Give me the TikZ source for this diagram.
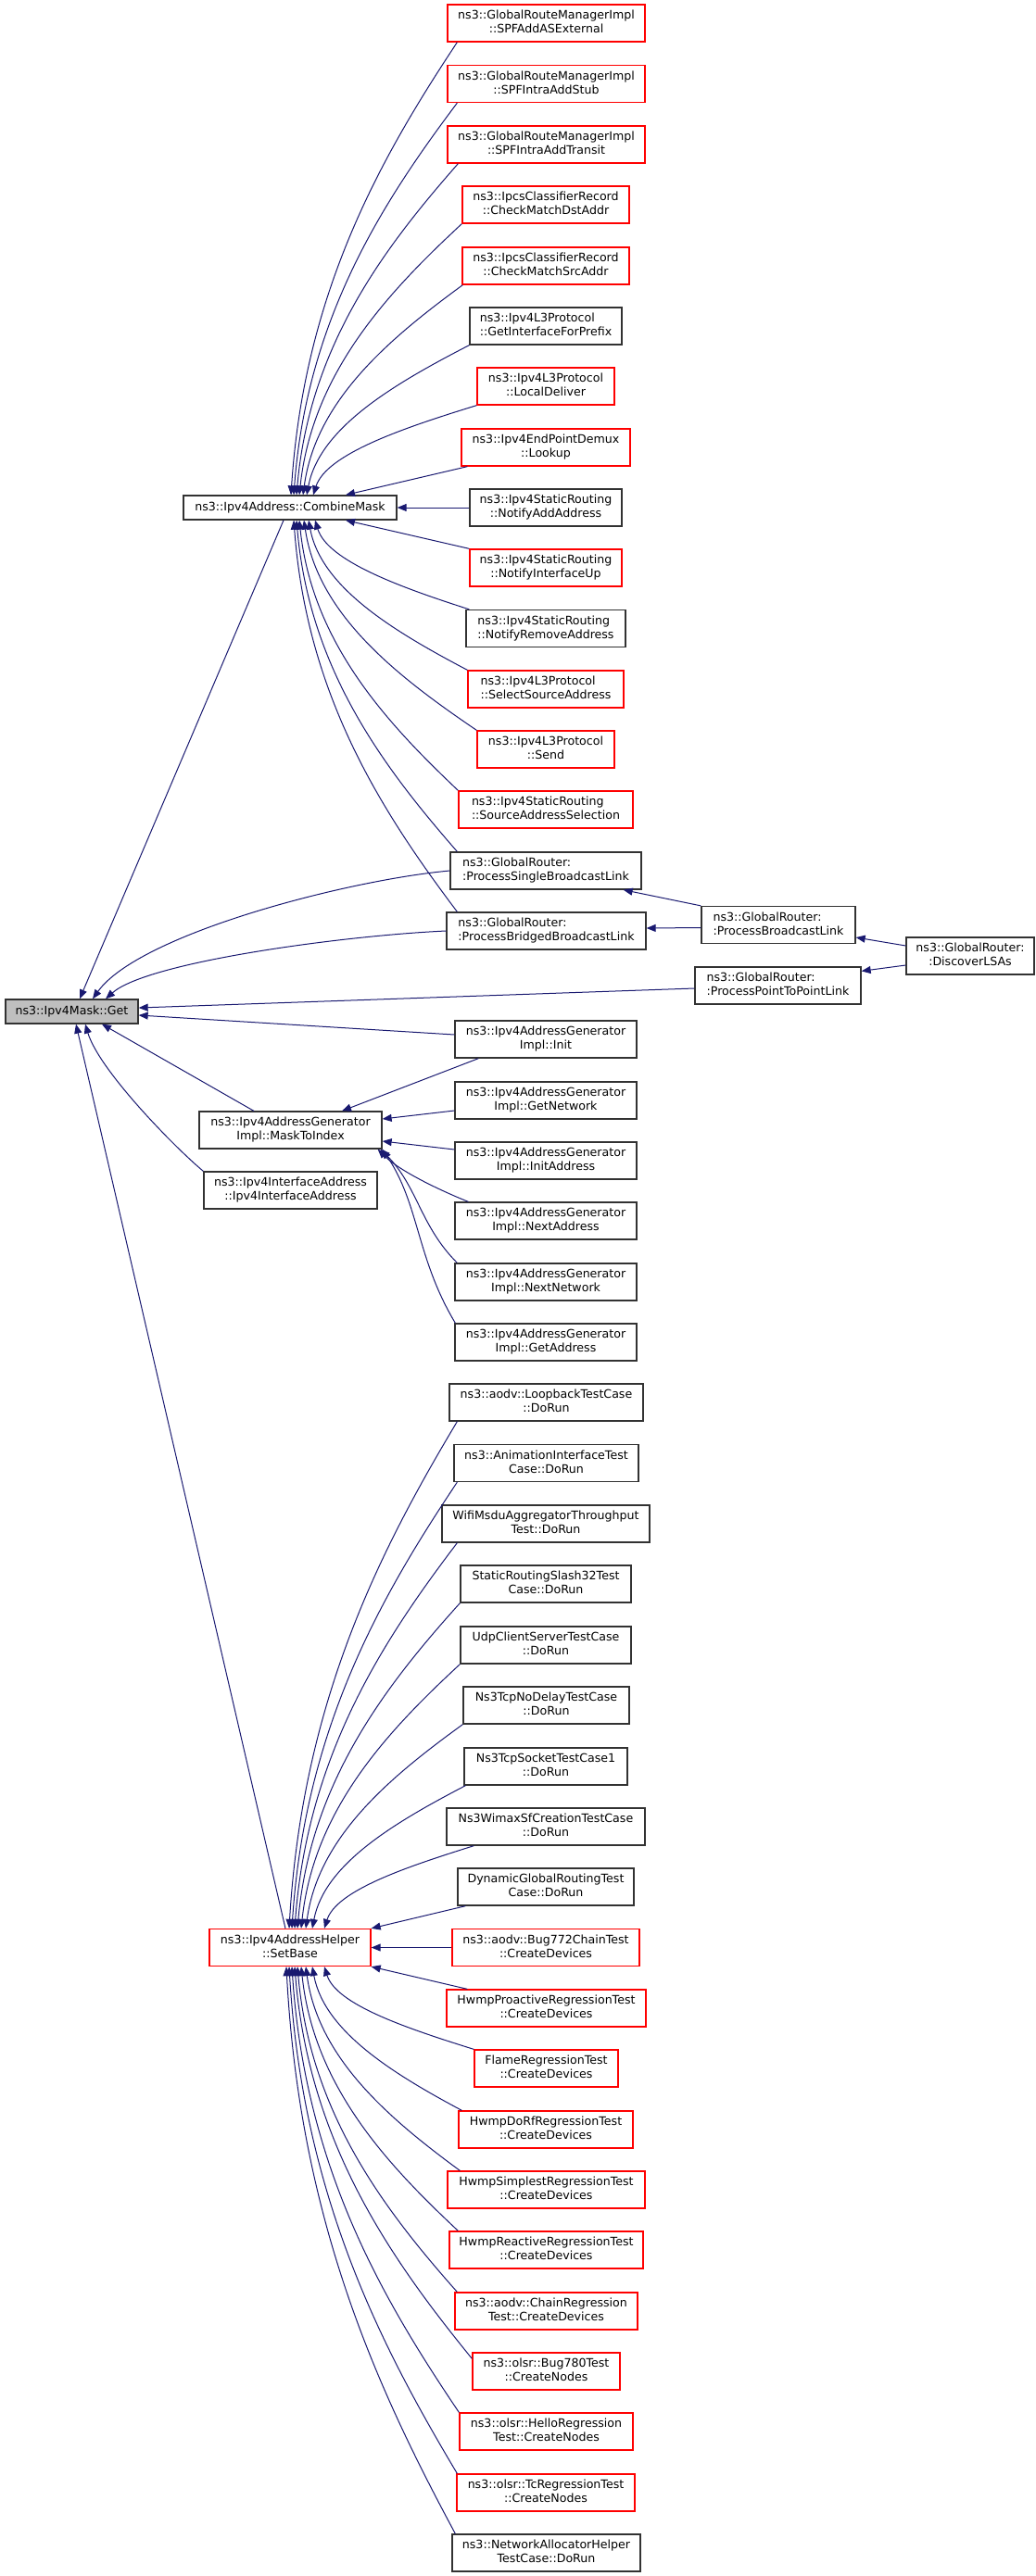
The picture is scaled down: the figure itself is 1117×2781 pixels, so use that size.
\documentclass[tikz,border=0pt]{standalone}
\usepackage{fontspec}
\usetikzlibrary{arrows.meta}
\newfontfamily\dvfont{DejaVu Sans}
\definecolor{edgeblue}{RGB}{25,25,112}
\definecolor{boxgray}{RGB}{50,50,50}
\definecolor{getfill}{RGB}{191,191,191}
\newcommand\twol[2]{\begin{tabular}{@{}l@{}}#1\\\multicolumn{1}{@{}c@{}}{#2}\end{tabular}}
\tikzset{
  box/.style={draw=boxgray, line width=1.3pt, fill=white, rectangle, inner sep=0pt,
    minimum height=40pt, align=center, font=\dvfont\fontsize{12.6}{15}\selectfont},
  rbox/.style={box, draw=red},
  e/.style={draw=edgeblue, line width=1pt, -{Triangle[length=10pt,width=8pt]}},
}
\begin{document}
\begin{tikzpicture}[x=1pt,y=-1pt]
\useasboundingbox (0,0) rectangle (1117,2781);
% right column
\node[rbox, minimum width=213pt] (r1) at (589.5,25) {\twol{ns3::GlobalRouteManagerImpl}{::SPFAddASExternal}};
\node[rbox, minimum width=213pt] (r2) at (589.5,90.5) {\twol{ns3::GlobalRouteManagerImpl}{::SPFIntraAddStub}};
\node[rbox, minimum width=213pt] (r3) at (589.5,156) {\twol{ns3::GlobalRouteManagerImpl}{::SPFIntraAddTransit}};
\node[rbox, minimum width=180pt] (r4) at (589,221) {\twol{ns3::IpcsClassifierRecord}{::CheckMatchDstAddr}};
\node[rbox, minimum width=180pt] (r5) at (589,287) {\twol{ns3::IpcsClassifierRecord}{::CheckMatchSrcAddr}};
\node[box, minimum width=164pt] (r6) at (589,352) {\twol{ns3::Ipv4L3Protocol}{::GetInterfaceForPrefix}};
\node[rbox, minimum width=148pt] (r7) at (589,417) {\twol{ns3::Ipv4L3Protocol}{::LocalDeliver}};
\node[rbox, minimum width=182pt] (r8) at (589,483) {\twol{ns3::Ipv4EndPointDemux}{::Lookup}};
\node[box, minimum width=164pt] (r9) at (589,548) {\twol{ns3::Ipv4StaticRouting}{::NotifyAddAddress}};
\node[rbox, minimum width=164pt] (r10) at (589,613) {\twol{ns3::Ipv4StaticRouting}{::NotifyInterfaceUp}};
\node[box, minimum width=172pt] (r11) at (589,678.5) {\twol{ns3::Ipv4StaticRouting}{::NotifyRemoveAddress}};
\node[rbox, minimum width=168pt] (r12) at (589,744) {\twol{ns3::Ipv4L3Protocol}{::SelectSourceAddress}};
\node[rbox, minimum width=148pt] (r13) at (589,809) {\twol{ns3::Ipv4L3Protocol}{::Send}};
\node[rbox, minimum width=188pt] (r14) at (589,874) {\twol{ns3::Ipv4StaticRouting}{::SourceAddressSelection}};
\node[box, minimum width=206pt] (r15) at (589,940) {\twol{ns3::GlobalRouter:}{:ProcessSingleBroadcastLink}};
\node[box, minimum width=215pt] (r16) at (589.5,1005) {\twol{ns3::GlobalRouter:}{:ProcessBridgedBroadcastLink}};
\node[box, minimum width=196pt] (r17) at (589,1122) {\twol{ns3::Ipv4AddressGenerator}{Impl::Init}};
\node[box, minimum width=196pt] (r18) at (589,1188) {\twol{ns3::Ipv4AddressGenerator}{Impl::GetNetwork}};
\node[box, minimum width=196pt] (r19) at (589,1253) {\twol{ns3::Ipv4AddressGenerator}{Impl::InitAddress}};
\node[box, minimum width=196pt] (r20) at (589,1318) {\twol{ns3::Ipv4AddressGenerator}{Impl::NextAddress}};
\node[box, minimum width=196pt] (r21) at (589,1384) {\twol{ns3::Ipv4AddressGenerator}{Impl::NextNetwork}};
\node[box, minimum width=196pt] (r22) at (589,1449) {\twol{ns3::Ipv4AddressGenerator}{Impl::GetAddress}};
\node[box, minimum width=209pt] (r23) at (589.5,1514) {\twol{ns3::aodv::LoopbackTestCase}{::DoRun}};
\node[box, minimum width=199pt] (r24) at (589.5,1579.5) {\twol{ns3::AnimationInterfaceTest}{Case::DoRun}};
\node[box, minimum width=224pt] (r25) at (589,1645) {\twol{WifiMsduAggregatorThroughput}{Test::DoRun}};
\node[box, minimum width=184pt] (r26) at (589,1710) {\twol{StaticRoutingSlash32Test}{Case::DoRun}};
\node[box, minimum width=184pt] (r27) at (589,1776) {\twol{UdpClientServerTestCase}{::DoRun}};
\node[box, minimum width=179pt] (r28) at (589.5,1841) {\twol{Ns3TcpNoDelayTestCase}{::DoRun}};
\node[box, minimum width=176pt] (r29) at (589,1907) {\twol{Ns3TcpSocketTestCase1}{::DoRun}};
\node[box, minimum width=214pt] (r30) at (589,1972) {\twol{Ns3WimaxSfCreationTestCase}{::DoRun}};
\node[box, minimum width=190pt] (r31) at (589,2037) {\twol{DynamicGlobalRoutingTest}{Case::DoRun}};
\node[rbox, minimum width=202pt] (r32) at (589,2102.5) {\twol{ns3::aodv::Bug772ChainTest}{::CreateDevices}};
\node[rbox, minimum width=215pt] (r33) at (589.5,2168) {\twol{HwmpProactiveRegressionTest}{::CreateDevices}};
\node[rbox, minimum width=155pt] (r34) at (589.5,2233) {\twol{FlameRegressionTest}{::CreateDevices}};
\node[rbox, minimum width=188pt] (r35) at (589,2299) {\twol{HwmpDoRfRegressionTest}{::CreateDevices}};
\node[rbox, minimum width=213pt] (r36) at (589.5,2364) {\twol{HwmpSimplestRegressionTest}{::CreateDevices}};
\node[rbox, minimum width=209pt] (r37) at (589.5,2429) {\twol{HwmpReactiveRegressionTest}{::CreateDevices}};
\node[rbox, minimum width=197pt] (r38) at (589.5,2495) {\twol{ns3::aodv::ChainRegression}{Test::CreateDevices}};
\node[rbox, minimum width=159pt] (r39) at (589.5,2560) {\twol{ns3::olsr::Bug780Test}{::CreateNodes}};
\node[rbox, minimum width=187pt] (r40) at (589.5,2625) {\twol{ns3::olsr::HelloRegression}{Test::CreateNodes}};
\node[rbox, minimum width=192pt] (r41) at (589,2691) {\twol{ns3::olsr::TcRegressionTest}{::CreateNodes}};
\node[box, minimum width=203pt] (r42) at (589.5,2756) {\twol{ns3::NetworkAllocatorHelper}{TestCase::DoRun}};
% far right
\node[box, minimum width=166pt] (pbl) at (840,998.5) {\twol{ns3::GlobalRouter:}{:ProcessBroadcastLink}};
\node[box, minimum width=179pt] (ptp) at (839.5,1064) {\twol{ns3::GlobalRouter:}{:ProcessPointToPointLink}};
\node[box, minimum width=138pt] (dl) at (1047,1032) {\twol{ns3::GlobalRouter:}{:DiscoverLSAs}};
% left column
\node[box, minimum width=230pt, minimum height=26pt] (cm) at (313,548) {ns3::Ipv4Address::CombineMask};
\node[box, fill=getfill, minimum width=143pt, minimum height=26pt] (get) at (77.5,1092) {ns3::Ipv4Mask::Get};
\node[box, minimum width=197pt] (mti) at (313.5,1220) {\twol{ns3::Ipv4AddressGenerator}{Impl::MaskToIndex}};
\node[box, minimum width=187pt] (ia) at (313.5,1285) {\twol{ns3::Ipv4InterfaceAddress}{::Ipv4InterfaceAddress}};
\node[rbox, minimum width=174pt] (sb) at (313,2102.5) {\twol{ns3::Ipv4AddressHelper}{::SetBase}};
% edges to CombineMask
\draw[e] ([xshift=11pt]r1.south west) .. controls +(-81,122.5) and +(14.4,-220.5) .. ([xshift=1pt]cm.north);
\draw[e] ([xshift=11pt]r2.south west) .. controls +(-79.6,106) and +(14.2,-190.8) .. ([xshift=4pt]cm.north);
\draw[e] ([xshift=12pt]r3.south west) .. controls +(-78.8,89.8) and +(14,-161.6) .. ([xshift=7pt]cm.north);
\draw[e] (r4.south west) .. controls +(-79.2,73.5) and +(14.1,-132.3) .. ([xshift=10pt]cm.north);
\draw[e] ([xshift=1pt]r5.south west) .. controls +(-77.9,57) and +(13.8,-102.6) .. ([xshift=14pt]cm.north);
\draw[e] (r6.south west) .. controls +(-79,40.8) and +(14,-73.4) .. ([xshift=18pt]cm.north);
\draw[e] (r7.south west) .. controls +(-79.7,24.5) and +(14.2,-44.1) .. ([xshift=25pt]cm.north);
\draw[e] ([xshift=7pt]r8.south west) -- ([xshift=60pt]cm.north);
\draw[e] (r9.west) -- (cm.east);
\draw[e] (r10.north west) -- ([xshift=60pt]cm.south);
\draw[e] ([xshift=4pt]r11.north west) .. controls +(-75,-24) and +(13.4,43.7) .. ([xshift=27pt]cm.south);
\draw[e] (r12.north west) .. controls +(-77.4,-40.8) and +(13.8,73.4) .. ([xshift=20pt]cm.south);
\draw[e] (r13.north west) .. controls +(-84,-57) and +(15,102.6) .. ([xshift=15pt]cm.south);
\draw[e] (r14.north west) .. controls +(-77.4,-73.3) and +(13.8,131.9) .. ([xshift=10pt]cm.south);
\draw[e] ([xshift=8pt]r15.north west) .. controls +(-78.3,-89.8) and +(13.9,161.6) .. ([xshift=7pt]cm.south);
\draw[e] ([xshift=12pt]r16.north west) .. controls +(-79.7,-106) and +(14.2,190.8) .. ([xshift=4pt]cm.south);
% edges to Get
\draw[e] ([xshift=-7pt]cm.south) -- ([xshift=8.5pt]get.north);
\draw[e] (r15.west) .. controls +(-110,10) and +(50,-70) .. ([xshift=22.5pt]get.north);
\draw[e] (r16.west) .. controls +(-110,5) and +(45,-40) .. ([xshift=36.5pt]get.north);
\draw[e] ([yshift=-3pt]ptp.west) -- ([yshift=4pt]get.east);
\draw[e] ([yshift=5pt]r17.west) -- ([yshift=-4pt]get.east);
\draw[e] ([xshift=-39.5pt]mti.north) -- ([xshift=32.5pt]get.south);
\draw[e] (ia.north west) .. controls +(-30,-25) and +(15,50) .. ([xshift=14.5pt]get.south);
\draw[e] ([xshift=-5pt]sb.north) -- ([xshift=4.5pt]get.south);
% edges to MaskToIndex
\draw[e] ([xshift=26pt]r17.south west) -- ([xshift=55.5pt]mti.north);
\draw[e] ([yshift=-11pt]r18.west) -- ([yshift=12pt]mti.east);
\draw[e] ([yshift=12pt]r19.west) -- ([yshift=-12pt]mti.east);
\draw[e] ([xshift=15pt]r20.north west) .. controls +(-25,-10) and +(25,25) .. ([xshift=-5pt]mti.south east);
\draw[e] ([xshift=3pt]r21.north west) .. controls +(-40,-40) and +(40,40) .. ([xshift=-2pt]mti.south east);
\draw[e] ([xshift=1pt]r22.north west) .. controls +(-42,-70) and +(40,60) .. (mti.south east);
% GlobalRouter edges
\draw[e] (pbl.north west) -- ([xshift=-20pt]r15.south east);
\draw[e] ([yshift=-3pt]pbl.west) -- ([yshift=3pt]r16.east);
\draw[e] ([yshift=11pt]dl.west) -- ([yshift=-13.5pt]pbl.east);
\draw[e] ([yshift=-10pt]dl.west) -- ([yshift=-5pt]ptp.north east);
% edges to SetBase
\draw[e] ([xshift=9pt]r23.south west) .. controls +(-81.9,137) and +(14.6,-246.6) .. ([xshift=-1pt]sb.north);
\draw[e] ([xshift=4pt]r24.south west) .. controls +(-80.6,120.8) and +(14.3,-217.4) .. ([xshift=2pt]sb.north);
\draw[e] ([xshift=17pt]r25.south west) .. controls +(-79.2,104.3) and +(14.1,-187.7) .. ([xshift=5pt]sb.north);
\draw[e] (r26.south west) .. controls +(-79.2,88) and +(14.1,-158.4) .. ([xshift=8pt]sb.north);
\draw[e] (r27.south west) .. controls +(-77.4,71.8) and +(13.8,-129.2) .. ([xshift=12pt]sb.north);
\draw[e] (r28.south west) .. controls +(-76.5,55.5) and +(13.6,-99.9) .. ([xshift=17pt]sb.north);
\draw[e] ([xshift=2pt]r29.south west) .. controls +(-74.7,39) and +(13.3,-70.2) .. ([xshift=24pt]sb.north);
\draw[e] ([xshift=30pt]r30.south west) .. controls +(-72.9,22.8) and +(13,-41) .. ([xshift=37pt]sb.north);
\draw[e] ([xshift=9pt]r31.south west) -- (sb.north east);
\draw[e] (r32.west) -- (sb.east);
\draw[e] ([xshift=23pt]r33.north west) -- (sb.south east);
\draw[e] (r34.north west) .. controls +(-72.9,-22.8) and +(13,41) .. ([xshift=37pt]sb.south);
\draw[e] ([xshift=4pt]r35.north west) .. controls +(-72.9,-39) and +(13,70.2) .. ([xshift=24pt]sb.south);
\draw[e] ([xshift=14pt]r36.north west) .. controls +(-75.2,-55.3) and +(13.4,99.5) .. ([xshift=17pt]sb.south);
\draw[e] ([xshift=10pt]r37.north west) .. controls +(-76.5,-71.8) and +(13.6,129.2) .. ([xshift=12pt]sb.south);
\draw[e] ([xshift=3pt]r38.north west) .. controls +(-77.9,-88) and +(13.8,158.4) .. ([xshift=8pt]sb.south);
\draw[e] ([yshift=-7pt]r39.north west) .. controls +(-86.4,-106.3) and +(15.4,191.3) .. ([xshift=5pt]sb.south);
\draw[e] (r40.north west) .. controls +(-81.5,-121) and +(14.5,217.8) .. ([xshift=2pt]sb.south);
\draw[e] ([xshift=1pt]r41.north west) .. controls +(-81.9,-137.3) and +(14.6,247) .. ([xshift=-1pt]sb.south);
\draw[e] ([xshift=4pt]r42.north west) .. controls +(-82.4,-153.5) and +(14.6,276.3) .. ([xshift=-4pt]sb.south);
\end{tikzpicture}
\end{document}
